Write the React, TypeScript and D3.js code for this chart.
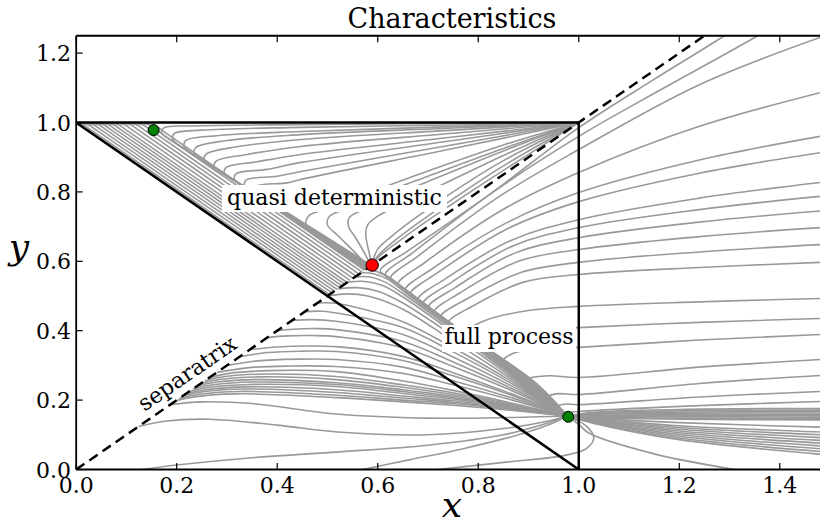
import React from "react";
import * as d3 from "d3";

type Pt = [number, number];

const X_TICKS = [0, 0.2, 0.4, 0.6, 0.8, 1.0, 1.2, 1.4];
const Y_TICKS = [0, 0.2, 0.4, 0.6, 0.8, 1.0, 1.2];

const triangle: Pt[] = [[0, 1], [1, 1], [1, 0], [0, 1]];
const separatrixLine: Pt[] = [[0, 0], [1.3, 1.3]];

const fixedPoints = [
  { x: 0.154, y: 0.978, color: "#008000", r: 5.5 },
  { x: 0.589, y: 0.589, color: "#ff0000", r: 6.2 },
  { x: 0.979, y: 0.152, color: "#008000", r: 5.5 },
];

// Characteristics starting at the top-left corner, running along the diagonal band
const topLeftFan: Pt[][] = [
  [[0, 0.999], [0.013, 0.994], [0.033, 0.975], [0.3, 0.708], [0.504, 0.504]],
  [[0, 0.999], [0.023, 0.994], [0.043, 0.975], [0.3, 0.718], [0.509, 0.509]],
  [[0.008, 0.998], [0.033, 0.994], [0.053, 0.975], [0.3, 0.728], [0.514, 0.514]],
  [[0.018, 0.998], [0.043, 0.994], [0.063, 0.975], [0.3, 0.738], [0.519, 0.519]],
  [[0.028, 0.998], [0.053, 0.994], [0.073, 0.975], [0.3, 0.748], [0.524, 0.524]],
  [[0.038, 0.998], [0.063, 0.994], [0.083, 0.975], [0.3, 0.758], [0.529, 0.529]],
  [[0.048, 0.998], [0.073, 0.994], [0.093, 0.975], [0.3, 0.768], [0.534, 0.534]],
  [[0.058, 0.998], [0.083, 0.994], [0.103, 0.975], [0.3, 0.778], [0.539, 0.539]],
  [[0.07, 0.998], [0.095, 0.994], [0.115, 0.975], [0.3, 0.79], [0.545, 0.545]],
  [[0.082, 0.998], [0.107, 0.994], [0.127, 0.975], [0.3, 0.802], [0.551, 0.551]],
  [[0.094, 0.998], [0.119, 0.994], [0.139, 0.975], [0.3, 0.814], [0.557, 0.557]],
  [[0.106, 0.998], [0.131, 0.994], [0.151, 0.975], [0.3, 0.826], [0.563, 0.563]],
  [[0.118, 0.998], [0.143, 0.994], [0.163, 0.975], [0.3, 0.838], [0.569, 0.569]],
  [[0.128, 0.999], [0.153, 0.995], [0.173, 0.975], [0.3, 0.848], [0.574, 0.574]],
];

// Characteristics fanning out of the top-right corner (1,1)
const topRightFan: Pt[][] = [
  [[1, 1], [0.75, 0.997], [0.447, 0.994], [0.23, 0.99], [0.175, 0.985], [0.17, 0.97], [0.2, 0.938], [0.45, 0.713], [0.585, 0.59]],
  [[1, 1], [0.75, 0.993], [0.447, 0.986], [0.25, 0.978], [0.195, 0.968], [0.192, 0.952], [0.22, 0.92], [0.45, 0.711], [0.584, 0.588]],
  [[1, 1], [0.75, 0.988], [0.447, 0.974], [0.28, 0.962], [0.218, 0.948], [0.215, 0.93], [0.24, 0.902], [0.45, 0.709], [0.583, 0.586]],
  [[1, 1], [0.75, 0.984], [0.447, 0.965], [0.3, 0.948], [0.238, 0.928], [0.235, 0.91], [0.26, 0.884], [0.45, 0.707], [0.582, 0.584]],
  [[1, 1], [0.75, 0.978], [0.447, 0.951], [0.32, 0.93], [0.258, 0.908], [0.255, 0.89], [0.28, 0.866], [0.45, 0.705], [0.581, 0.582]],
  [[1, 1], [0.75, 0.969], [0.447, 0.931], [0.34, 0.908], [0.278, 0.888], [0.275, 0.872], [0.3, 0.847], [0.45, 0.703], [0.58, 0.58]],
  [[1, 1], [0.75, 0.958], [0.447, 0.908], [0.36, 0.887], [0.298, 0.87], [0.295, 0.854], [0.32, 0.829], [0.45, 0.701], [0.579, 0.579]],
  [[1, 1], [0.75, 0.948], [0.447, 0.885], [0.38, 0.865], [0.318, 0.852], [0.315, 0.836], [0.34, 0.811], [0.46, 0.69], [0.578, 0.578]],
  [[1, 1], [0.75, 0.936], [0.447, 0.859], [0.4, 0.845], [0.338, 0.834], [0.335, 0.818], [0.36, 0.793], [0.47, 0.68], [0.577, 0.577]],
  [[1, 1], [0.75, 0.925], [0.447, 0.836], [0.42, 0.826], [0.358, 0.816], [0.355, 0.8], [0.38, 0.775], [0.48, 0.672], [0.576, 0.576]],
  [[1, 1], [0.85, 0.935], [0.7, 0.86], [0.55, 0.78], [0.49, 0.748], [0.462, 0.73], [0.458, 0.705], [0.48, 0.68], [0.54, 0.625], [0.578, 0.582]],
  [[1, 1], [0.85, 0.925], [0.7, 0.845], [0.58, 0.78], [0.53, 0.748], [0.503, 0.728], [0.5, 0.705], [0.52, 0.675], [0.555, 0.625], [0.58, 0.585]],
  [[1, 1], [0.85, 0.918], [0.7, 0.83], [0.6, 0.77], [0.565, 0.745], [0.543, 0.725], [0.542, 0.7], [0.555, 0.67], [0.575, 0.62], [0.585, 0.59]],
  [[1, 1], [0.85, 0.905], [0.72, 0.815], [0.64, 0.76], [0.6, 0.73], [0.58, 0.705], [0.576, 0.68], [0.582, 0.63], [0.588, 0.595]],
  [[1, 1], [0.85, 0.89], [0.75, 0.8], [0.68, 0.73], [0.63, 0.675], [0.6, 0.635], [0.59, 0.6]],
  [[1, 1], [0.85, 0.875], [0.75, 0.78], [0.68, 0.71], [0.63, 0.655], [0.6, 0.615], [0.592, 0.597]],
  [[1, 1], [0.85, 0.862], [0.75, 0.767], [0.68, 0.698], [0.63, 0.645], [0.605, 0.617], [0.595, 0.6]],
];

// Characteristics right of the separatrix: from the right edge, swinging into the saddle and down to the stable point
const rightSector: Pt[][] = [
  [[1.45, 1.4], [1.29, 1.25], [1.145, 1.12], [1, 0.985], [0.82, 0.79], [0.66, 0.63], [0.605, 0.573], [0.625, 0.552], [0.85, 0.302], [0.977, 0.154]],
  [[1.48, 1.36], [1.356, 1.25], [1.17, 1.1], [1, 0.96], [0.83, 0.8], [0.67, 0.625], [0.615, 0.562], [0.635, 0.54], [0.85, 0.304], [0.977, 0.154]],
  [[1.48, 1.245], [1.24, 1.109], [1, 0.922], [0.84, 0.785], [0.68, 0.615], [0.625, 0.551], [0.645, 0.529], [0.85, 0.306], [0.977, 0.154]],
  [[1.48, 1.086], [1.24, 0.989], [1, 0.856], [0.85, 0.75], [0.695, 0.598], [0.64, 0.534], [0.66, 0.512], [0.86, 0.296], [0.977, 0.154]],
  [[1.48, 0.96], [1.24, 0.892], [1, 0.798], [0.855, 0.71], [0.71, 0.58], [0.655, 0.518], [0.675, 0.495], [0.86, 0.298], [0.977, 0.154]],
  [[1.48, 0.913], [1.24, 0.854], [1, 0.772], [0.86, 0.695], [0.72, 0.568], [0.665, 0.506], [0.685, 0.484], [0.86, 0.3], [0.977, 0.154]],
  [[1.48, 0.827], [1.24, 0.782], [1, 0.72], [0.865, 0.66], [0.735, 0.55], [0.68, 0.49], [0.7, 0.467], [0.87, 0.29], [0.977, 0.154]],
  [[1.48, 0.787], [1.24, 0.749], [1, 0.697], [0.87, 0.645], [0.745, 0.538], [0.69, 0.478], [0.71, 0.456], [0.87, 0.292], [0.977, 0.154]],
  [[1.48, 0.745], [1.24, 0.713], [1, 0.668], [0.875, 0.625], [0.755, 0.525], [0.7, 0.467], [0.72, 0.445], [0.87, 0.294], [0.977, 0.154]],
  [[1.48, 0.697], [1.24, 0.671], [1, 0.634], [0.88, 0.6], [0.765, 0.51], [0.712, 0.454], [0.732, 0.432], [0.88, 0.284], [0.977, 0.154]],
  [[1.48, 0.648], [1.24, 0.627], [1, 0.597], [0.885, 0.568], [0.778, 0.492], [0.725, 0.44], [0.745, 0.417], [0.88, 0.286], [0.977, 0.154]],
  [[1.48, 0.597], [1.24, 0.582], [1, 0.562], [0.89, 0.54], [0.79, 0.472], [0.74, 0.423], [0.76, 0.4], [0.89, 0.276], [0.977, 0.154]],
  [[1.48, 0.493], [1.24, 0.483], [1, 0.47], [0.9, 0.458], [0.815, 0.43], [0.77, 0.39], [0.79, 0.367], [0.9, 0.266], [0.977, 0.154]],
  [[1.48, 0.435], [1.24, 0.424], [1, 0.409], [0.92, 0.402], [0.845, 0.38], [0.81, 0.345], [0.83, 0.322], [0.91, 0.255], [0.977, 0.154]],
  [[1.48, 0.389], [1.24, 0.373], [1, 0.352], [0.935, 0.348], [0.87, 0.335], [0.845, 0.306], [0.865, 0.283], [0.93, 0.225], [0.977, 0.154]],
  [[1.48, 0.317], [1.24, 0.295], [1, 0.265], [0.94, 0.27], [0.9, 0.262], [0.885, 0.245], [0.9, 0.225], [0.94, 0.19], [0.977, 0.154]],
  [[1.48, 0.271], [1.24, 0.248], [1, 0.216], [0.955, 0.218], [0.932, 0.205], [0.94, 0.19], [0.96, 0.172], [0.977, 0.154]],
  [[1.48, 0.225], [1.24, 0.209], [1, 0.187], [0.97, 0.188], [0.953, 0.178], [0.962, 0.166], [0.977, 0.154]],
  [[1.48, 0.196], [1.24, 0.184], [1, 0.167], [0.985, 0.164], [0.977, 0.154]],
];

// Characteristics starting on the separatrix below it, converging to the lower stable point
const lowerRegion: Pt[][] = [
  [[0.124, 0.124], [0.18, 0.14], [0.265, 0.145], [0.4, 0.128], [0.52, 0.108], [0.7, 0.1], [0.85, 0.118], [0.94, 0.14], [0.977, 0.154]],
  [[0.187, 0.187], [0.25, 0.195], [0.35, 0.19], [0.517, 0.16], [0.7, 0.148], [0.87, 0.15], [0.977, 0.154]],
  [[0.198, 0.198], [0.238, 0.21], [0.318, 0.218], [0.517, 0.207], [0.65, 0.195], [0.75, 0.185], [0.87, 0.17], [0.977, 0.154]],
  [[0.205, 0.205], [0.245, 0.217], [0.325, 0.225], [0.517, 0.214], [0.65, 0.2], [0.75, 0.19], [0.87, 0.172], [0.977, 0.154]],
  [[0.212, 0.212], [0.252, 0.224], [0.332, 0.232], [0.517, 0.222], [0.65, 0.206], [0.75, 0.194], [0.87, 0.174], [0.977, 0.154]],
  [[0.218, 0.218], [0.258, 0.23], [0.338, 0.238], [0.517, 0.23], [0.65, 0.212], [0.75, 0.198], [0.87, 0.176], [0.977, 0.154]],
  [[0.225, 0.225], [0.265, 0.237], [0.345, 0.245], [0.517, 0.239], [0.65, 0.219], [0.75, 0.203], [0.87, 0.178], [0.977, 0.154]],
  [[0.232, 0.232], [0.272, 0.244], [0.352, 0.252], [0.517, 0.245], [0.65, 0.225], [0.75, 0.207], [0.87, 0.18], [0.977, 0.154]],
  [[0.24, 0.24], [0.28, 0.252], [0.36, 0.259], [0.517, 0.25], [0.65, 0.23], [0.75, 0.211], [0.87, 0.182], [0.977, 0.154]],
  [[0.248, 0.248], [0.288, 0.26], [0.368, 0.267], [0.517, 0.259], [0.65, 0.237], [0.75, 0.216], [0.87, 0.184], [0.977, 0.154]],
  [[0.256, 0.256], [0.296, 0.268], [0.376, 0.275], [0.517, 0.268], [0.65, 0.244], [0.75, 0.221], [0.87, 0.187], [0.977, 0.154]],
  [[0.264, 0.264], [0.304, 0.277], [0.384, 0.285], [0.517, 0.282], [0.65, 0.255], [0.75, 0.228], [0.87, 0.19], [0.977, 0.154]],
  [[0.28, 0.28], [0.34, 0.293], [0.42, 0.298], [0.517, 0.297], [0.65, 0.277], [0.75, 0.244], [0.87, 0.199], [0.977, 0.154]],
  [[0.3, 0.3], [0.36, 0.313], [0.44, 0.318], [0.517, 0.317], [0.65, 0.295], [0.75, 0.256], [0.87, 0.205], [0.977, 0.154]],
  [[0.325, 0.325], [0.38, 0.337], [0.45, 0.341], [0.517, 0.34], [0.65, 0.314], [0.75, 0.27], [0.87, 0.212], [0.977, 0.154]],
  [[0.345, 0.345], [0.4, 0.353], [0.46, 0.356], [0.517, 0.354], [0.65, 0.326], [0.75, 0.279], [0.87, 0.216], [0.977, 0.154]],
  [[0.38, 0.38], [0.42, 0.385], [0.47, 0.386], [0.517, 0.383], [0.65, 0.351], [0.75, 0.297], [0.87, 0.225], [0.977, 0.154]],
  [[0.4, 0.4], [0.44, 0.405], [0.48, 0.406], [0.517, 0.403], [0.65, 0.369], [0.75, 0.31], [0.87, 0.231], [0.977, 0.154]],
  [[0.43, 0.43], [0.47, 0.432], [0.517, 0.427], [0.65, 0.389], [0.75, 0.324], [0.87, 0.238], [0.977, 0.154]],
  [[0.455, 0.455], [0.49, 0.456], [0.53, 0.448], [0.65, 0.409], [0.75, 0.339], [0.87, 0.245], [0.977, 0.154]],
  [[0.48, 0.48], [0.51, 0.48], [0.55, 0.47], [0.65, 0.426], [0.75, 0.351], [0.87, 0.251], [0.977, 0.154]],
  [[0.5, 0.5], [0.54, 0.506], [0.58, 0.5], [0.65, 0.462], [0.75, 0.37], [0.87, 0.257], [0.977, 0.154]],
  [[0.52, 0.52], [0.56, 0.524], [0.6, 0.514], [0.65, 0.48], [0.75, 0.385], [0.87, 0.263], [0.977, 0.154]],
  [[0.54, 0.54], [0.575, 0.542], [0.61, 0.53], [0.65, 0.497], [0.75, 0.395], [0.87, 0.268], [0.977, 0.154]],
  [[0.555, 0.555], [0.585, 0.555], [0.615, 0.54], [0.652, 0.505], [0.75, 0.402], [0.87, 0.272], [0.977, 0.154]],
  [[0.567, 0.567], [0.59, 0.565], [0.62, 0.548], [0.655, 0.51], [0.75, 0.407], [0.87, 0.275], [0.977, 0.154]],
  [[0.578, 0.578], [0.597, 0.571], [0.622, 0.552], [0.66, 0.51], [0.75, 0.41], [0.87, 0.277], [0.977, 0.154]],
];

// Characteristics entering from the x axis
const bottomLines: Pt[][] = [
  [[0.13, 0.0], [0.2, 0.013], [0.35, 0.034], [0.515, 0.05], [0.7, 0.07], [0.85, 0.1], [0.94, 0.135], [0.977, 0.154]],
  [[0.57, 0.0], [0.66, 0.027], [0.77, 0.06], [0.88, 0.1], [0.95, 0.135], [0.977, 0.154]],
  [[0.72, 0.0], [0.86, 0.022], [0.97, 0.04], [1.015, 0.06], [1.03, 0.092], [1.015, 0.125], [0.99, 0.146], [0.977, 0.154]],
];

// Characteristics leaving the lower stable point to the right
const rightBands: Pt[][] = [
  [[0.977, 0.154], [1.03, 0.149], [1.2, 0.145], [1.48, 0.143]],
  [[0.977, 0.154], [1.03, 0.151], [1.2, 0.148], [1.48, 0.147]],
  [[0.977, 0.154], [1.03, 0.153], [1.2, 0.152], [1.48, 0.151]],
  [[0.977, 0.154], [1.03, 0.155], [1.2, 0.155], [1.48, 0.155]],
  [[0.977, 0.154], [1.03, 0.157], [1.2, 0.158], [1.48, 0.159]],
  [[0.977, 0.154], [1.03, 0.159], [1.2, 0.162], [1.48, 0.163]],
  [[0.977, 0.154], [1.03, 0.161], [1.2, 0.165], [1.48, 0.167]],
  [[0.977, 0.154], [1.03, 0.163], [1.2, 0.169], [1.48, 0.171]],
  [[0.977, 0.154], [1.03, 0.165], [1.2, 0.173], [1.48, 0.176]],
  [[0.977, 0.154], [1.03, 0.133], [1.2, 0.086], [1.48, 0.044]],
  [[0.977, 0.154], [1.03, 0.134], [1.2, 0.091], [1.48, 0.052]],
  [[0.977, 0.154], [1.03, 0.136], [1.2, 0.096], [1.48, 0.06]],
  [[0.977, 0.154], [1.03, 0.138], [1.2, 0.101], [1.48, 0.068]],
  [[0.977, 0.154], [1.03, 0.139], [1.2, 0.106], [1.48, 0.076]],
  [[0.977, 0.154], [1.03, 0.141], [1.2, 0.111], [1.48, 0.084]],
  [[0.977, 0.154], [1.03, 0.142], [1.2, 0.116], [1.48, 0.092]],
  [[0.977, 0.154], [1.03, 0.144], [1.2, 0.121], [1.48, 0.1]],
  [[0.977, 0.154], [1.03, 0.146], [1.2, 0.126], [1.48, 0.108]],
  [[0.977, 0.154], [1.03, 0.148], [1.2, 0.135], [1.48, 0.122]],
  [[0.977, 0.154], [1.0, 0.13], [1.02, 0.105], [1.15, 0.045], [1.31, 0.0]],
];

export default function App() {
  const W = 820;
  const H = 524;
  const left = 76.2;
  const right = 820;
  const top = 35.75;
  const bottom = 469.5;

  const x = d3.scaleLinear().domain([0, 1.48]).range([left, right]);
  const y = d3.scaleLinear().domain([0, 1.25]).range([bottom, top]);

  const curve = d3
    .line<Pt>()
    .x((d) => x(d[0]))
    .y((d) => y(d[1]))
    .curve(d3.curveCatmullRom.alpha(0.5));
  const straight = d3
    .line<Pt>()
    .x((d) => x(d[0]))
    .y((d) => y(d[1]));

  const allCurves = [
    ...lowerRegion,
    ...bottomLines,
    ...rightBands,
    ...rightSector,
    ...topLeftFan,
    ...topRightFan,
  ];

  const fmt = d3.format(".1f");
  const font = "'DejaVu Serif', serif";
  const sepAngle = (Math.atan2(y(1) - y(0), x(1) - x(0)) * 180) / Math.PI;

  return (
    <svg
      width={W}
      height={H}
      style={{ position: "absolute", left: 0, top: 0, background: "#fff" }}
      fontFamily={font}
    >
      <defs>
        <clipPath id="plotArea">
          <rect x={left} y={top} width={right - left + 2} height={bottom - top} />
        </clipPath>
      </defs>
      <rect x={0} y={0} width={W} height={H} fill="#fff" />

      <g clipPath="url(#plotArea)">
        {allCurves.map((c, i) => (
          <path key={i} d={curve(c) || ""} fill="none" stroke="#999999" strokeWidth={1.6} />
        ))}
        <path d={straight(triangle) || ""} fill="none" stroke="#000" strokeWidth={2.5} />
        <path
          d={straight(separatrixLine) || ""}
          fill="none"
          stroke="#000"
          strokeWidth={2.5}
          strokeDasharray="10,6"
        />
      </g>

      {fixedPoints.map((p, i) => (
        <circle key={i} cx={x(p.x)} cy={y(p.y)} r={p.r} fill={p.color} stroke="#000" strokeWidth={1} />
      ))}

      {/* annotations */}
      <rect x={222} y={185} width={225} height={27} fill="#fff" />
      <text x={334.5} y={204.5} fontSize={22} textAnchor="middle" fill="#000">
        quasi deterministic
      </text>
      <rect x={442} y={325} width={134} height={27} fill="#fff" />
      <text x={509} y={343.5} fontSize={22} textAnchor="middle" fill="#000">
        full process
      </text>
      <g transform={`translate(191.5,379.5) rotate(${sepAngle})`}>
        <rect x={-66} y={-18} width={132} height={25} fill="#fff" />
        <text x={0} y={0} fontSize={22} textAnchor="middle" fill="#000">
          separatrix
        </text>
      </g>

      {/* spines */}
      <line x1={left} y1={top} x2={left} y2={bottom} stroke="#000" strokeWidth={1.8} />
      <line x1={left} y1={bottom} x2={right + 2} y2={bottom} stroke="#000" strokeWidth={1.8} />
      <line x1={left} y1={top} x2={right + 2} y2={top} stroke="#000" strokeWidth={1.8} />

      {/* ticks */}
      {X_TICKS.map((t) => (
        <g key={"xt" + t}>
          <line x1={x(t)} y1={bottom} x2={x(t)} y2={bottom - 6.5} stroke="#000" strokeWidth={1.2} />
          <line x1={x(t)} y1={top} x2={x(t)} y2={top + 6.5} stroke="#000" strokeWidth={1.2} />
          <text x={x(t)} y={493} fontSize={22} textAnchor="middle" fill="#000">
            {fmt(t)}
          </text>
        </g>
      ))}
      {Y_TICKS.map((t) => (
        <g key={"yt" + t}>
          <line x1={left} y1={y(t)} x2={left + 6.5} y2={y(t)} stroke="#000" strokeWidth={1.2} />
          <text x={71} y={y(t) + 8} fontSize={22} textAnchor="end" fill="#000">
            {fmt(t)}
          </text>
        </g>
      ))}

      <text x={452} y={28} fontSize={27} textAnchor="middle" fill="#000">
        Characteristics
      </text>
      <text x={452} y={517} fontSize={36} fontStyle="italic" textAnchor="middle" fill="#000">
        x
      </text>
      <text x={19} y={259} fontSize={36} fontStyle="italic" textAnchor="middle" fill="#000">
        y
      </text>
    </svg>
  );
}
